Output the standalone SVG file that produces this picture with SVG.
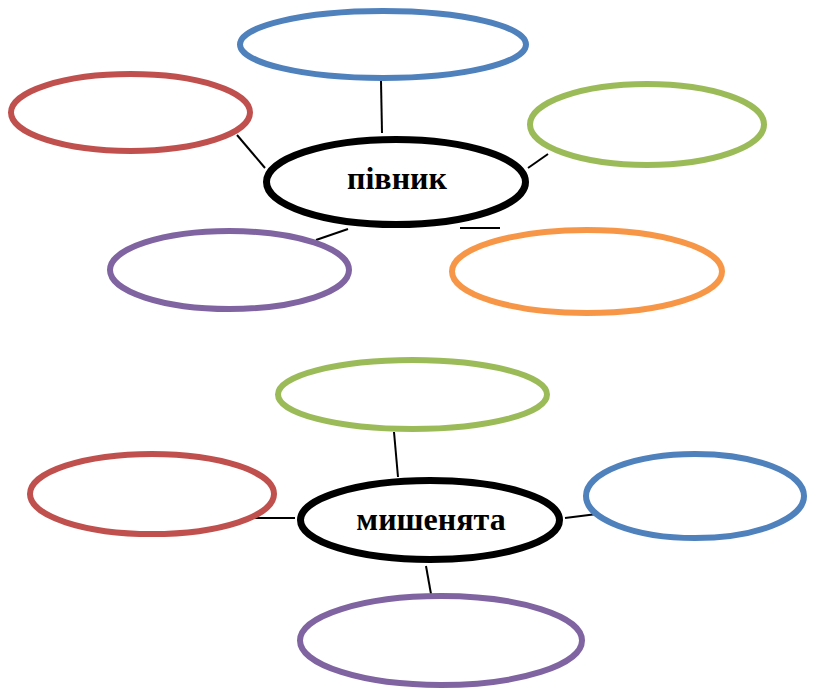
<svg xmlns="http://www.w3.org/2000/svg" width="816" height="693" viewBox="0 0 816 693">
<style>
.e{fill:none;stroke-width:6}
.c{fill:#fff;stroke:#000;stroke-width:7}
.l{stroke:#000;stroke-width:2;fill:none}
.t{font-family:"Liberation Serif",serif;font-weight:bold;font-size:32px;text-anchor:middle;fill:#000}
</style>
<rect width="816" height="693" fill="#fff"/>
<g id="connectors">
<line class="l" x1="381" y1="81" x2="382" y2="133"/>
<line class="l" x1="237" y1="135" x2="265" y2="168"/>
<line class="l" x1="548" y1="154" x2="528" y2="168"/>
<line class="l" x1="316" y1="240" x2="348" y2="229"/>
<line class="l" x1="460" y1="228" x2="500" y2="228"/>
<line class="l" x1="394" y1="432" x2="398" y2="477"/>
<line class="l" x1="252" y1="518" x2="295" y2="518"/>
<line class="l" x1="565" y1="518" x2="597" y2="514"/>
<line class="l" x1="426" y1="566" x2="431" y2="594"/>
</g>
<g id="top-blue"><ellipse class="e" stroke="#4F81BD" cx="383" cy="44.5" rx="143" ry="33.5"/></g>
<g id="top-red"><ellipse class="e" stroke="#C0504D" cx="130.5" cy="112.5" rx="119.5" ry="38.5"/></g>
<g id="top-green"><ellipse class="e" stroke="#9BBB59" cx="647" cy="124.5" rx="117" ry="40.5"/></g>
<g id="top-purple"><ellipse class="e" stroke="#8064A2" cx="229.5" cy="270" rx="119.5" ry="39"/></g>
<g id="top-orange"><ellipse class="e" stroke="#F79646" cx="587" cy="271.5" rx="135" ry="41.5"/></g>
<g id="pivnyk"><ellipse class="c" cx="396" cy="182" rx="129.5" ry="42.5"/><text class="t" x="397" y="189">півник</text></g>
<g id="bottom-green"><ellipse class="e" stroke="#9BBB59" cx="412.5" cy="394.5" rx="134.5" ry="34.5"/></g>
<g id="bottom-red"><ellipse class="e" stroke="#C0504D" cx="152" cy="494" rx="122" ry="40"/></g>
<g id="bottom-blue"><ellipse class="e" stroke="#4F81BD" cx="695" cy="496" rx="109" ry="42"/></g>
<g id="myshenyata"><ellipse class="c" cx="430" cy="520" rx="129.5" ry="39.5"/><text class="t" x="431" y="530">мишенята</text></g>
<g id="bottom-purple"><ellipse class="e" stroke="#8064A2" cx="441" cy="640.5" rx="141" ry="44.5"/></g>
</svg>
